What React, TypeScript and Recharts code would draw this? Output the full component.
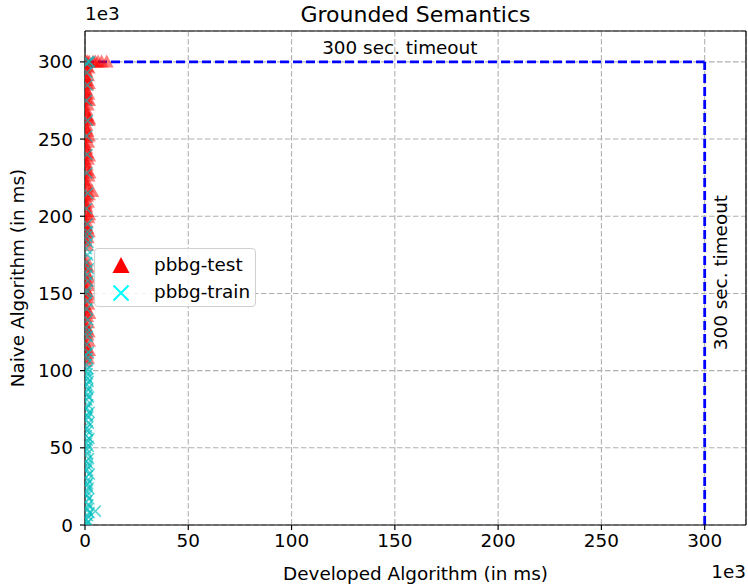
import React from 'react'
import {
  ScatterChart, Scatter, XAxis, YAxis, CartesianGrid, ReferenceLine,
} from 'recharts'

const FONT = 'DejaVu Sans, Verdana, sans-serif'

const xTicks = [0, 50, 100, 150, 200, 250, 300]
const yTicks = [0, 50, 100, 150, 200, 250, 300]
const TIMEOUT = 300

// [developed, naive] in 1e3 ms
const pbbgTest: [number, number][] = [
  [0.5, 300], [1.2, 300], [2, 300], [3.9, 300], [5, 300], [6.3, 300], [8, 300], [10.5, 300],
  [1.0, 297], [0.6, 294], [1.5, 291], [0.8, 288], [1.2, 285], [0.5, 282], [1.6, 279],
  [0.9, 276], [1.3, 272], [0.6, 269], [1.1, 265], [1.8, 262], [0.7, 259], [1.2, 255],
  [0.9, 251], [1.5, 248], [0.6, 244], [1.1, 241], [1.4, 237], [0.8, 233], [1.0, 230],
  [1.7, 226], [0.6, 223], [1.2, 219], [3.5, 216], [0.9, 213], [1.4, 209], [0.7, 206],
  [1.1, 203], [1.6, 199], [0.8, 196], [1.2, 192], [0.6, 189], [1.3, 186], [0.9, 171],
  [1.4, 167], [0.7, 163], [1.1, 158], [1.8, 155], [0.8, 151], [1.2, 147], [1.6, 143],
  [0.6, 139], [1.0, 135], [1.5, 131], [0.8, 127], [1.2, 123], [1.9, 119], [0.7, 115],
  [1.1, 111], [1.4, 108],
  [0.4, 299], [1.7, 296], [0.3, 290], [1.9, 286], [0.4, 280], [2.0, 275], [0.3, 268],
  [2.1, 263], [0.4, 257], [1.9, 252], [0.3, 246], [2.0, 239], [0.4, 235], [2.2, 228],
  [0.3, 221], [1.9, 214], [0.4, 208], [2.0, 201], [0.3, 194], [1.8, 190], [0.4, 184],
  [1.0, 181], [0.5, 168], [2.0, 160], [0.3, 153], [1.9, 149], [0.4, 141], [2.1, 137],
  [0.3, 129], [1.8, 125], [0.4, 117], [2.0, 113], [0.5, 106],
]

const pbbgTrain: [number, number][] = [
  [0.8, 1], [1.5, 2], [0.4, 4], [1.2, 6], [2.0, 8], [5.0, 9], [0.7, 11], [1.4, 13],
  [0.5, 15], [1.8, 17], [1.0, 19], [0.6, 22], [1.6, 24], [0.9, 26], [1.3, 29], [0.5, 31],
  [2.1, 33], [0.8, 36], [1.2, 38], [0.6, 41], [1.7, 43], [1.0, 46], [0.4, 48], [1.5, 51],
  [0.8, 53], [1.9, 56], [0.6, 58], [1.2, 61], [0.9, 63], [1.6, 66], [0.5, 68], [1.1, 71],
  [2.0, 73], [0.7, 76], [1.3, 78], [0.9, 81], [1.7, 83], [0.5, 86], [1.2, 88], [0.8, 91],
  [1.5, 93], [0.6, 96], [1.1, 98], [1.4, 101], [0.7, 104], [1.0, 108], [1.6, 112],
  [0.8, 117], [1.2, 122], [0.6, 128], [1.3, 133], [0.9, 140], [1.1, 145], [0.7, 152],
  [1.4, 158], [1.0, 162], [1.6, 166], [0.8, 170], [1.2, 175], [0.6, 179], [1.5, 183],
  [0.9, 187], [1.1, 195], [0.7, 205], [1.3, 215], [0.9, 228], [1.0, 240], [0.8, 252],
  [1.2, 262], [0.7, 275], [1.1, 285], [0.9, 293], [1.5, 300], [2.2, 300], [0.8, 299],
  [0.3, 3], [1.1, 10], [0.3, 20], [1.2, 27], [0.3, 35], [1.4, 40], [0.3, 50], [1.1, 55],
  [0.3, 62], [1.4, 70], [0.3, 75], [1.0, 84], [0.3, 90], [1.3, 95], [0.3, 100],
  [0.5, 110], [1.1, 125], [0.4, 150], [1.2, 190],
]

const toPts = (arr: [number, number][]) => arr.map(([x, y]) => ({ x, y }))

const Triangle = (p: any) => {
  const { cx, cy } = p
  if (cx == null || cy == null) return null
  return (
    <polygon
      points={`${cx},${cy - 7.5} ${cx - 7},${cy + 5.5} ${cx + 7},${cy + 5.5}`}
      fill="#ff0000"
      fillOpacity={0.5}
    />
  )
}

const Cross = (p: any) => {
  const { cx, cy } = p
  if (cx == null || cy == null) return null
  const r = 5.5
  return (
    <path
      d={`M${cx - r},${cy - r}L${cx + r},${cy + r}M${cx - r},${cy + r}L${cx + r},${cy - r}`}
      stroke="#00bfbf"
      strokeOpacity={0.65}
      strokeWidth={1.6}
      fill="none"
    />
  )
}

const LegendBox = () => (
  <div style={{
    position: 'absolute', left: 94, top: 248, width: 162, height: 59,
    border: '1px solid #d0d0d0', borderRadius: 4, boxSizing: 'border-box',
    background: 'rgba(255,255,255,0.85)', fontFamily: FONT, fontSize: 18.4, lineHeight: '22px',
  }}>
    <svg width={40} height={59} style={{ position: 'absolute', left: 6, top: 0 }}>
      <polygon points="20,8 11.5,24 28.5,24" fill="#ff0000" />
      <path d="M12.5,36.5L27.5,51.5M12.5,51.5L27.5,36.5" stroke="#00ffff" strokeWidth={2} />
    </svg>
    <div style={{ position: 'absolute', left: 59, top: 5 }}>pbbg-test</div>
    <div style={{ position: 'absolute', left: 59, top: 32 }}>pbbg-train</div>
  </div>
)

const hLabel = (p: any) => {
  const vb = p.viewBox
  if (!vb) return null
  return (
    <text x={vb.x + vb.width / 2 + 5} y={vb.y - 8} textAnchor="middle" fontSize={18.4} fontFamily={FONT} fill="#000">
      300 sec. timeout
    </text>
  )
}

const vLabel = (p: any) => {
  const vb = p.viewBox
  if (!vb) return null
  const x = vb.x + 16
  const y = vb.y + vb.height * 0.455
  return (
    <text x={x} y={y} transform={`rotate(-90, ${x}, ${y})`} textAnchor="middle" dominantBaseline="central"
      fontSize={18.4} fontFamily={FONT} fill="#000">
      300 sec. timeout
    </text>
  )
}

const tickStyle = { fill: '#000', fontSize: 18.4, fontFamily: FONT }

export default function App() {
  return (
    <div style={{ position: 'absolute', left: 0, top: 0, width: 748, height: 588, background: '#fff' }}>
      <ScatterChart width={748} height={588} margin={{ top: 31, right: 2, bottom: 33, left: 25 }}>
        <CartesianGrid stroke="#b0b0b0" strokeDasharray="5.5 2.5" strokeWidth={1.1} />
        <XAxis
          type="number" dataKey="x" domain={[0, 320]} ticks={xTicks} allowDataOverflow
          height={30} tickSize={5} tickMargin={4} stroke="#000" strokeWidth={1.2} tick={tickStyle}
        />
        <YAxis
          type="number" dataKey="y" domain={[0, 320]} ticks={yTicks} allowDataOverflow
          width={60} tickSize={5} tickMargin={7} stroke="#000" strokeWidth={1.2} tick={tickStyle}
        />
        <ReferenceLine y={320} stroke="#000" strokeWidth={1.2} />
        <ReferenceLine x={320} stroke="#000" strokeWidth={1.2} />
        <Scatter name="pbbg-test" data={toPts(pbbgTest)} shape={Triangle} isAnimationActive={false} />
        <Scatter name="pbbg-train" data={toPts(pbbgTrain)} shape={Cross} isAnimationActive={false} />
        <ReferenceLine
          segment={[{ x: 0, y: TIMEOUT }, { x: TIMEOUT, y: TIMEOUT }]}
          stroke="#0000ff" strokeWidth={2.8} strokeDasharray="9 4" label={hLabel}
        />
        <ReferenceLine
          segment={[{ x: TIMEOUT, y: 0 }, { x: TIMEOUT, y: TIMEOUT }]}
          stroke="#0000ff" strokeWidth={2.8} strokeDasharray="9 4" label={vLabel}
        />
      </ScatterChart>
      <LegendBox />
      <svg width={748} height={588} style={{ position: 'absolute', left: 0, top: 0, pointerEvents: 'none' }}
        fontFamily={FONT} fill="#000">
        <text x={415.5} y={22} textAnchor="middle" fontSize={22}>Grounded Semantics</text>
        <text x={85} y={20} fontSize={18.4}>1e3</text>
        <text x={746} y={578} textAnchor="end" fontSize={18.4}>1e3</text>
        <text x={415.5} y={580} textAnchor="middle" fontSize={18.4}>Developed Algorithm (in ms)</text>
        <text x={24} y={278} textAnchor="middle" fontSize={18.4} transform="rotate(-90, 24, 278)">
          Naive Algorithm (in ms)
        </text>
      </svg>
    </div>
  )
}
